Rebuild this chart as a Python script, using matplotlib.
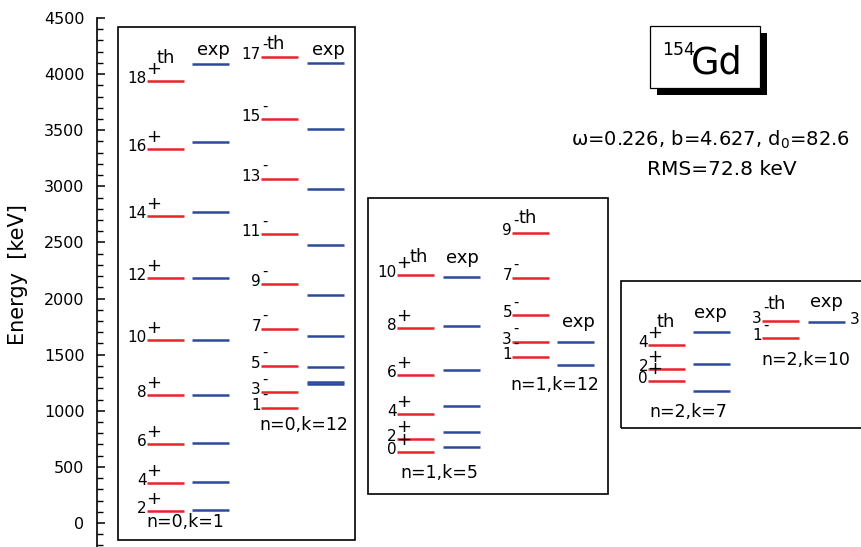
import matplotlib
matplotlib.use('Agg')
import matplotlib.pyplot as plt
from matplotlib.patches import Rectangle
from matplotlib.ticker import MultipleLocator

# level energies in keV
# band n=0,k=1 (positive parity)
gsb_spins = [2, 4, 6, 8, 10, 12, 14, 16, 18]
gsb_th = [110, 354, 704, 1138, 1634, 2181, 2739, 3330, 3939]
gsb_exp = [120, 368, 712, 1142, 1635, 2182, 2775, 3398, 4088]

# band n=0,k=12 (negative parity)
oct_spins = [1, 3, 5, 7, 9, 11, 13, 15, 17]
oct_th = [1028, 1168, 1402, 1732, 2130, 2576, 3069, 3601, 4153]
oct_exp = [1241, 1252, 1393, 1669, 2032, 2478, 2980, 3514, 4100]

# band n=1,k=5
b1_spins = [0, 2, 4, 6, 8, 10]
b1_th = [635, 746, 971, 1316, 1735, 2210]
b1_exp = [677, 814, 1043, 1364, 1753, 2190]

# band n=1,k=12
o1_spins = [1, 3, 5, 7, 9]
o1_th = [1482, 1616, 1854, 2186, 2582]
o1_exp = [1411, 1613]

# band n=2,k=7
b2_spins = [0, 2, 4]
b2_th = [1266, 1370, 1589]
b2_exp = [1176, 1414, 1700]

# band n=2,k=10
o2_spins = [1, 3]
o2_th = [1649, 1803]
o2_exp = [1794]

red = '#e8232b'
blue = '#2c4a9c'
px = 8.911  # keV per pixel on the energy axis

fig = plt.figure(figsize=(8.61, 5.47), dpi=100)
ax = fig.add_axes([97 / 861, 0, 764 / 861, 529 / 547])
ax.set_xlim(97, 861)
ax.set_ylim(-214, 4500)
for s in ['top', 'right', 'bottom']:
    ax.spines[s].set_visible(False)
ax.spines['left'].set_linewidth(1.2)
ax.set_xticks([])
ax.yaxis.set_major_locator(MultipleLocator(500))
ax.yaxis.set_minor_locator(MultipleLocator(100))
ax.tick_params(axis='y', which='major', direction='in', length=6, width=1.1,
               labelsize=11.5, pad=9)
ax.tick_params(axis='y', which='minor', direction='in', length=4, width=1.0)
fig.text(18 / 861, 1 - 275 / 547, 'Energy  [keV]', rotation=90, ha='center',
         va='center', fontsize=15)


def draw_band(x0, energies, color, spins=None, sign='+'):
    for i, e in enumerate(energies):
        ax.plot([x0, x0 + 37], [e, e], color=color, lw=1.8,
                solid_capstyle='butt', zorder=3)
        if spins is not None:
            ax.text(x0, e - 2 * px, str(spins[i]), ha='right', va='baseline',
                    fontsize=11, zorder=4)
            if sign == '+':
                ax.text(x0 - 0.5, e + 12 * px, '+', ha='left', va='center',
                        fontsize=13, zorder=4)
            else:
                ax.text(x0 + 1, e + 13 * px, '-', ha='left', va='center',
                        fontsize=10.5, zorder=4)


def box(x0, x1, e0, e1):
    ax.add_patch(Rectangle((x0, e0), x1 - x0, e1 - e0, fill=False,
                           ec='black', lw=1.2, clip_on=False, zorder=1))


box(118, 355, -152, 4421)
box(368, 608, 258, 2897)
box(621, 900, 847, 2157)

draw_band(147, gsb_th, red, gsb_spins, '+')
draw_band(192, gsb_exp, blue)
draw_band(261, oct_th, red, oct_spins, '-')
draw_band(307, oct_exp, blue)
draw_band(397, b1_th, red, b1_spins, '+')
draw_band(443, b1_exp, blue)
draw_band(512, o1_th, red, o1_spins, '-')
draw_band(557, o1_exp, blue)
draw_band(648, b2_th, red, b2_spins, '+')
draw_band(693, b2_exp, blue)
draw_band(762, o2_th, red, o2_spins, '-')
draw_band(808, o2_exp, blue)

# cut-off label at right edge
ax.text(850, o2_exp[0] - 2 * px, '3', ha='left', va='baseline', fontsize=11)

hdr = dict(fontsize=13, va='baseline')
ax.text(166, 4097, 'th', ha='center', **hdr)
ax.text(213, 4171, 'exp', ha='center', **hdr)
ax.text(276, 4222, 'th', ha='center', **hdr)
ax.text(328, 4171, 'exp', ha='center', **hdr)
ax.text(419, 2326, 'th', ha='center', **hdr)
ax.text(462, 2320, 'exp', ha='center', **hdr)
ax.text(528, 2674, 'th', ha='center', **hdr)
ax.text(578, 1750, 'exp', ha='center', **hdr)
ax.text(666, 1744, 'th', ha='center', **hdr)
ax.text(710, 1824, 'exp', ha='center', **hdr)
ax.text(777, 1907, 'th', ha='center', **hdr)
ax.text(826, 1928, 'exp', ha='center', **hdr)

lab = dict(fontsize=12.5, va='baseline', ha='center')
ax.text(185, -40, 'n=0,k=1', **lab)
ax.text(304, 829, 'n=0,k=12', **lab)
ax.text(439, 398, 'n=1,k=5', **lab)
ax.text(555, 1185, 'n=1,k=12', **lab)
ax.text(688, 947, 'n=2,k=7', **lab)
ax.text(806, 1408, 'n=2,k=10', **lab)

# nucleus label box with shadow
ax.add_patch(Rectangle((657, 3877 - 7 * px), 110, 553, fc='black', ec='black',
                       lw=0, zorder=1))
ax.add_patch(Rectangle((650, 3877), 110, 553, fc='white', ec='black', lw=0.9,
                       zorder=2))
ax.text(662, 4170, '154', ha='left', va='baseline', fontsize=12.5, zorder=3)
ax.text(691, 4007, 'Gd', ha='left', va='baseline', fontsize=26.5, zorder=3)

ax.text(710, 3359, 'ω=0.226, b=4.627, d$_0$=82.6', ha='center',
        va='baseline', fontsize=14)
ax.text(722, 3101, 'RMS=72.8 keV', ha='center', va='baseline', fontsize=14.5)

fig.savefig('out.png', dpi=100)
